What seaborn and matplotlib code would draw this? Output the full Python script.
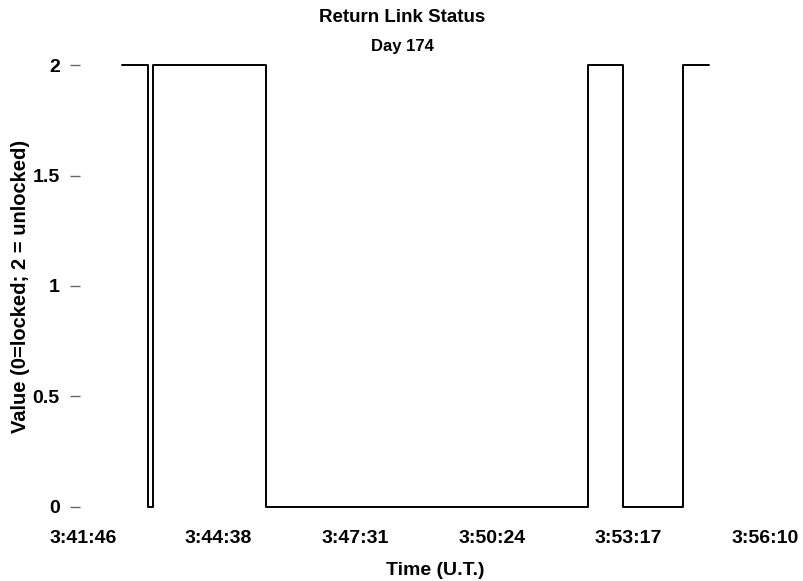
import matplotlib
matplotlib.use("Agg")
import matplotlib.pyplot as plt
import seaborn as sns
import pandas as pd

# ---- data ----
times = ["3:42:36", "3:43:09", "3:43:15", "3:45:38", "3:52:26", "3:53:10", "3:54:26", "3:54:59"]
values = [2, 0, 2, 0, 2, 0, 2, 2]
tick_labels = ["3:41:46", "3:44:38", "3:47:31", "3:50:24", "3:53:17", "3:56:10"]
y_ticks = [0, 0.5, 1, 1.5, 2]
y_tick_labels = ["0", "0.5", "1", "1.5", "2"]


def to_sec(s):
    h, m, sec = (int(p) for p in s.split(":"))
    return h * 3600 + m * 60 + sec


t0 = to_sec(tick_labels[0])
df = pd.DataFrame({"t": [to_sec(s) - t0 for s in times], "v": values})
tick_pos = [to_sec(s) - t0 for s in tick_labels]

sns.set_theme(style="white")
plt.rcParams["font.family"] = ["Liberation Sans", "DejaVu Sans"]
plt.rcParams["font.weight"] = "bold"
plt.rcParams["text.color"] = "black"
plt.rcParams["axes.labelcolor"] = "black"
plt.rcParams["xtick.color"] = "black"
plt.rcParams["ytick.color"] = "black"

W, H = 804, 581
fig = plt.figure(figsize=(W / 100, H / 100), dpi=100)
left_px, right_px = 80, 790
top_px, bot_px = 58.4, 513.6
ax = fig.add_axes([left_px / W, 1 - bot_px / H, (right_px - left_px) / W, (bot_px - top_px) / H])

sns.lineplot(data=df, x="t", y="v", ax=ax, color="black", linewidth=1.4,
             drawstyle="steps-post", estimator=None)

px_per_s = 137.5 / 172.8
x0 = 77
ax.set_xlim(-(left_px - x0) / px_per_s, (right_px - x0) / px_per_s)
ax.set_ylim(-0.03, 2.03)

for s in ax.spines.values():
    s.set_visible(False)

ax.set_xticks(tick_pos)
ax.set_xticklabels(tick_labels, fontsize=14, fontweight="bold", color="black")
ax.set_yticks(y_ticks)
ax.set_yticklabels(y_tick_labels, fontsize=14, fontweight="bold", color="black")
ax.tick_params(axis="x", length=0, pad=12)
ax.tick_params(axis="y", length=7.5, width=1, color="#666666", pad=7, left=True)
ax.grid(False)

ax.set_xlabel("Time (U.T.)", fontsize=14, fontweight="bold", color="black")
ax.xaxis.set_label_coords(0.5, -(562 - bot_px) / (bot_px - top_px), transform=ax.transAxes)
ax.set_ylabel("Value (0=locked; 2 = unlocked)", fontsize=14.5, fontweight="bold", color="black")
ax.yaxis.set_label_coords((30 - left_px) / (right_px - left_px), 0.5)

fig.text(402 / W, 1 - 18 / H, "Return Link Status", ha="center", va="center",
         fontsize=13.5, fontweight="bold", color="black")
fig.text(402 / W, 1 - 47 / H, "Day 174", ha="center", va="center",
         fontsize=12, fontweight="bold", color="black")

fig.savefig("out.png", dpi=100, facecolor="white")
